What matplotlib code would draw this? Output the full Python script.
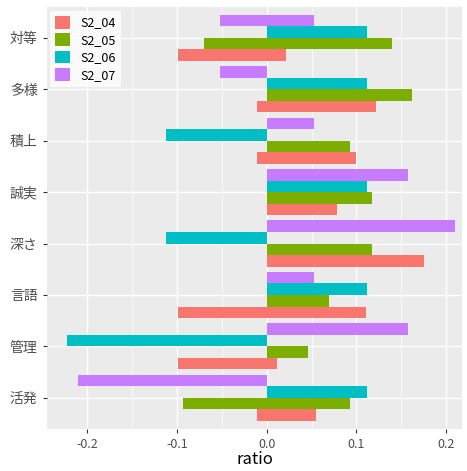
import numpy as np
import matplotlib.pyplot as plt

plt.rcParams['font.family'] = ['Noto Sans CJK JP', 'DejaVu Sans']

cats = ["活発", "管理", "言語", "深さ", "誠実", "積上", "多様", "対等"]
series = ["S2_04", "S2_05", "S2_06", "S2_07"]
colors = ["#F8766D", "#7CAE00", "#00BFC4", "#C77CFF"]
# each category can hold one negative and one positive value per series
neg = {
    "S2_04": [-0.011, -0.099, -0.099, 0, 0, -0.011, -0.011, -0.099],
    "S2_05": [-0.093, 0, 0, 0, 0, 0, 0, -0.070],
    "S2_06": [0, -0.222, 0, -0.112, 0, -0.112, 0, 0],
    "S2_07": [-0.210, 0, 0, 0, 0, 0, -0.052, -0.052],
}
pos = {
    "S2_04": [0.055, 0.011, 0.111, 0.175, 0.078, 0.100, 0.122, 0.022],
    "S2_05": [0.093, 0.046, 0.069, 0.117, 0.117, 0.093, 0.162, 0.140],
    "S2_06": [0.112, 0, 0.112, 0, 0.112, 0, 0.112, 0.112],
    "S2_07": [0, 0.158, 0.053, 0.210, 0.158, 0.053, 0, 0.053],
}

fig, ax = plt.subplots(figsize=(4.67, 4.71), dpi=100)
fig.subplots_adjust(left=0.1, right=0.99, bottom=0.09, top=0.985)
ax.set_facecolor("#EBEBEB")
y = np.arange(len(cats))
h = 0.225
for i, s in enumerate(series):
    off = (i - 1.5) * h
    ax.barh(y + off, neg[s], height=h, color=colors[i], label=s, zorder=3)
    ax.barh(y + off, pos[s], height=h, color=colors[i], zorder=3)

ax.set_yticks(y)
ax.set_yticklabels(cats, fontsize=10, color="#4D4D4D")
ax.set_xlim(-0.245, 0.218)
ax.set_ylim(-0.6, 7.6)
ax.set_xticks([-0.2, -0.1, 0.0, 0.1, 0.2])
ax.set_xticklabels(["-0.2", "-0.1", "0.0", "0.1", "0.2"], fontsize=9, color="#4D4D4D")
ax.set_xticks([-0.15, -0.05, 0.05, 0.15], minor=True)
ax.grid(True, which="major", color="white", lw=1.0, zorder=0)
ax.grid(True, which="minor", axis="x", color="white", lw=0.5, zorder=0)
ax.tick_params(which="both", length=3, color="#333333")
ax.tick_params(which="minor", length=0)
for sp in ax.spines.values():
    sp.set_visible(False)
ax.set_xlabel("ratio", fontsize=12, labelpad=0)
ax.legend(loc="upper left", fontsize=9, frameon=True, facecolor="white",
          edgecolor="none", fancybox=False, handlelength=1.2, handleheight=1.2,
          borderaxespad=0.3, labelspacing=0.3)
fig.savefig("out.png")
